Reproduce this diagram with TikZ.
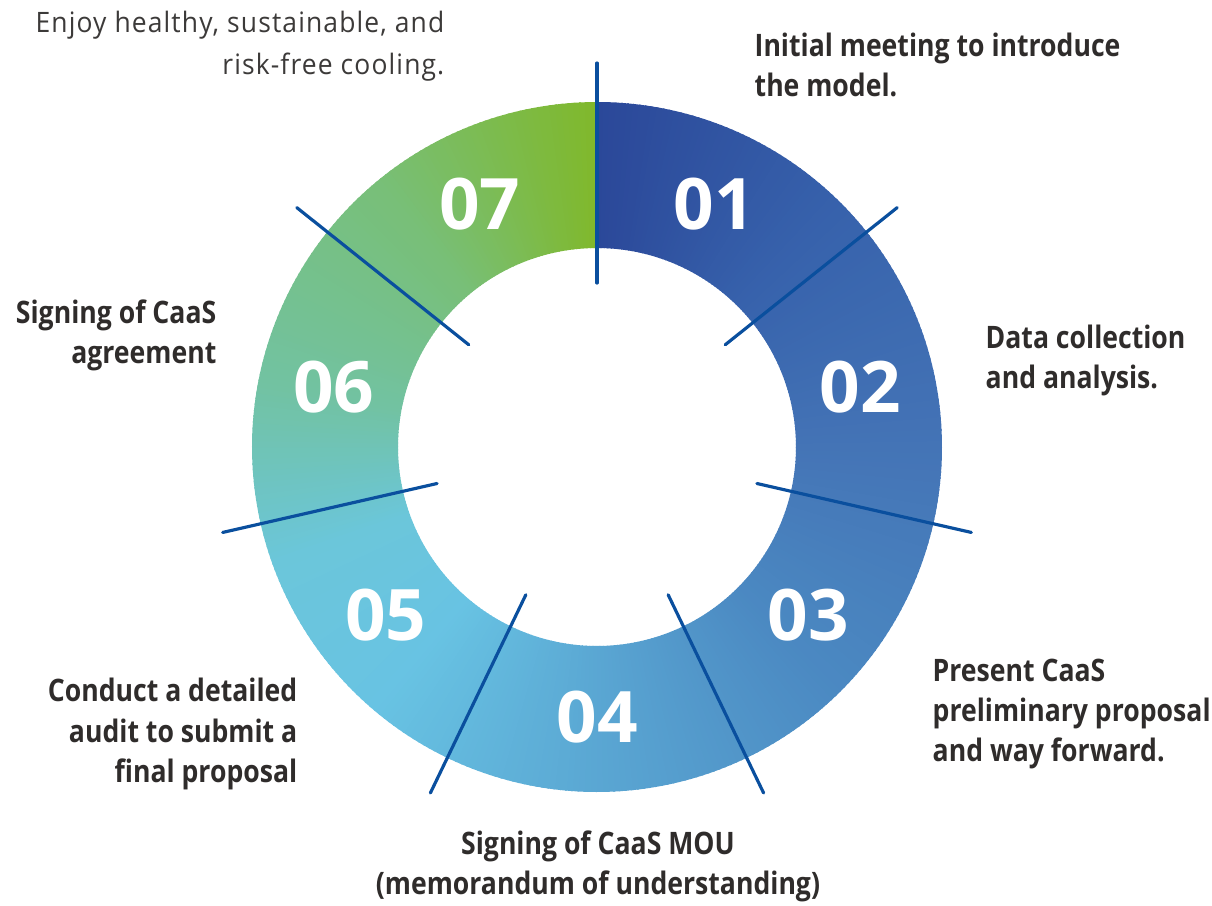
\documentclass[tikz,border=0pt]{standalone}
\usepackage{fontspec}
\setmainfont{Open Sans}
\newfontfamily\labelfont{Open Sans}[FakeStretch=0.86]
\newfontfamily\thinfont{Open Sans}[FakeStretch=0.94,LetterSpace=4]
\definecolor{ringA}{HTML}{2B4899}
\definecolor{ringB}{HTML}{3762AC}
\definecolor{ringC}{HTML}{4474B6}
\definecolor{ringD}{HTML}{4B89C2}
\definecolor{ringE}{HTML}{5AA7D3}
\definecolor{ringF}{HTML}{68C3E3}
\definecolor{ringG}{HTML}{6BC6DA}
\definecolor{ringH}{HTML}{72C2A2}
\definecolor{ringI}{HTML}{78BF78}
\definecolor{ringJ}{HTML}{80B82A}
\definecolor{lineblue}{HTML}{0A4F9E}
\definecolor{labelgray}{HTML}{2F2C2B}
\definecolor{thingray}{HTML}{3C3A39}

\begin{document}
\begin{tikzpicture}[x=0.01cm,y=0.01cm,
    divider/.style={draw=lineblue,line width=0.9pt,line cap=round},
    stepnum/.style={text=white,font=\fontsize{20.2}{24}\selectfont\bfseries},
    steplabel/.style={text=labelgray,inner sep=0pt,font=\labelfont\fontsize{8.8}{11.4}\selectfont\bfseries}]
    \useasboundingbox (-597,-458) rectangle (615,447);
    \foreach \ta/\tb/\ca/\cb in {0/45/ringA/ringB, 45/90/ringB/ringC, 90/135/ringC/ringD,
        135/180/ringD/ringE, 180/220/ringE/ringF, 220/250/ringF/ringG, 250/280/ringG/ringH,
        280/320/ringH/ringI, 320/360/ringI/ringJ}{
        \pgfmathtruncatemacro\tlast{\tb-1}
        \foreach \t in {\ta,...,\tlast}{
            \pgfmathsetmacro\p{100*(\t-\ta)/(\tb-\ta)}
            \fill[\cb!\p!\ca] ({90-\t}:345) -- ({88.7-\t}:345) -- ({88.7-\t}:199) -- ({90-\t}:199) -- cycle;
        }
    }
    \foreach \k in {0,...,6}
        \draw[divider] ({90-\k*360/7}:164) -- ({90-\k*360/7}:384);
    \foreach \k in {1,...,7}
        \node[stepnum] (num\k) at ({90-(\k-0.5)*360/7}:270) {0\k};
    \node[steplabel,anchor=west,align=left] (meeting) at (157,382) {Initial meeting to introduce\\the model.};
    \node[steplabel,anchor=west,align=left] (analysis) at (388,87) {Data collection\\and analysis.};
    \node[steplabel,anchor=west,align=left] (proposal) at (335,-267) {Present CaaS\\preliminary proposal\\and way forward.};
    \node[steplabel,align=center] (mou) at (1,-419) {Signing of CaaS MOU\\(memorandum of understanding)};
    \node[steplabel,anchor=east,align=right] (audit) at (-299,-287) {Conduct a detailed\\audit to submit a\\final proposal};
    \node[steplabel,anchor=east,align=right] (agreement) at (-380,112) {Signing of CaaS\\agreement};
    \node[anchor=east,align=right,inner sep=0pt,text=thingray,font=\thinfont\fontsize{8}{12}\selectfont] (cooling) at (-152,401) {Enjoy healthy, sustainable, and\\risk-free cooling.};
\end{tikzpicture}
\end{document}
